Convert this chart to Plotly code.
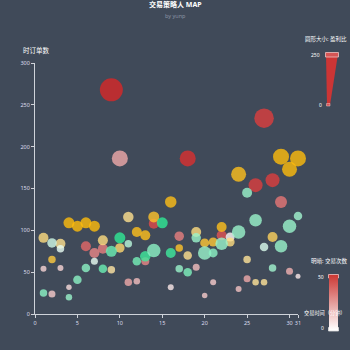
import colorsys
import plotly.graph_objects as go

# ---------------- data ----------------
red_day = [1, 2, 3, 4, 6, 7, 8, 9, 10, 11, 12, 13, 14, 16, 17, 18, 19, 20, 21, 22, 23, 24, 25, 26, 27, 28, 29, 30, 31]
red_val = [54, 24, 55, 32, 81, 73, 78, 268, 186, 38, 39, 63, 108, 32, 93, 186, 56, 22, 38, 94, 92, 30, 42, 154, 234, 160, 134, 51, 45]
red_size = [15, 25, 15, 10, 55, 55, 55, 185, 115, 30, 20, 35, 55, 15, 50, 115, 25, 10, 15, 55, 45, 15, 25, 95, 150, 95, 75, 25, 5]
red_cnt = [10, 12, 10, 8, 35, 28, 30, 50, 20, 20, 15, 28, 42, 5, 30, 48, 15, 12, 12, 40, 2, 14, 20, 45, 45, 45, 32, 18, 5]

yel_day = [1, 2, 3, 4, 5, 6, 7, 8, 9, 10, 11, 12, 13, 14, 16, 17, 18, 19, 20, 21, 22, 23, 24, 25, 26, 27, 28, 29, 30, 31]
yel_val = [91, 65, 84, 109, 105, 109, 105, 88, 53, 79, 116, 98, 94, 116, 134, 79, 70, 98, 85, 86, 104, 86, 167, 65, 38, 38, 92, 188, 173, 186]
yel_size = [55, 30, 55, 65, 65, 65, 65, 55, 30, 50, 60, 55, 55, 65, 70, 30, 40, 55, 45, 45, 55, 45, 105, 30, 20, 20, 55, 115, 105, 115]
yel_cnt = [25, 38, 22, 48, 48, 48, 48, 25, 18, 28, 22, 45, 45, 42, 46, 42, 22, 25, 40, 40, 45, 25, 45, 20, 20, 20, 32, 48, 48, 48]

grn_day = [1, 2, 3, 4, 5, 6, 7, 8, 9, 10, 11, 12, 13, 14, 15, 16, 17, 18, 19, 20, 21, 22, 24, 25, 26, 27, 28, 29, 30, 31]
grn_val = [25, 85, 78, 20, 41, 55, 63, 54, 75, 91, 84, 63, 69, 76, 109, 73, 54, 50, 91, 73, 73, 84, 98, 145, 112, 80, 55, 81, 105, 117]
grn_size = [30, 50, 30, 20, 40, 40, 25, 40, 65, 65, 30, 40, 60, 90, 65, 55, 30, 40, 50, 90, 45, 80, 90, 55, 80, 40, 30, 80, 90, 40]
grn_cnt = [25, 10, 5, 22, 25, 25, 5, 32, 32, 45, 15, 30, 42, 25, 45, 42, 22, 28, 22, 22, 25, 22, 22, 22, 22, 8, 20, 22, 22, 20]

series_names = ["红", "黄", "绿"]
series_colors = ["#dd4444", "#fec42c", "#80F1BE"]

title_text = "交易策略人 MAP"
subtitle_text = "by yunp"
y_name = "时订单数"
x_name = "交易时间（分钟）"
size_text = "圆形大小: 盈利比"
light_text = "明暗: 交易次数"
x_ticks = [0, 5, 10, 15, 20, 25, 30, 31]
y_ticks = [0, 50, 100, 150, 200, 250, 300]

BG = "#404a59"
FONT = "Noto Sans, Noto Sans CJK SC, sans-serif"

W, H = 350, 350
L, R, T, B = 35, 52, 63, 36
PW, PH = W - L - R, H - T - B


def px(x):
    return (x - L) / PW


def py(y):
    return (H - B - y) / PH


def light_color(base, cnt):
    base = base.lstrip("#")
    r, g, b = (int(base[i:i + 2], 16) / 255 for i in (0, 2, 4))
    h, l, s = colorsys.rgb_to_hls(r, g, b)
    lt = 1 - max(0, min(cnt, 50)) / 50 * 0.5
    r2, g2, b2 = colorsys.hls_to_rgb(h, lt, s)
    return "rgb(%d,%d,%d)" % (round(r2 * 255), round(g2 * 255), round(b2 * 255))


def diam(v):
    return 4.5 + v * 0.1


fig = go.Figure()
for name, base, days, vals, sizes, cnts in [
    (series_names[0], series_colors[0], red_day, red_val, red_size, red_cnt),
    (series_names[1], series_colors[1], yel_day, yel_val, yel_size, yel_cnt),
    (series_names[2], series_colors[2], grn_day, grn_val, grn_size, grn_cnt),
]:
    fig.add_trace(go.Scatter(
        x=days, y=vals, mode="markers", name=name, showlegend=False, cliponaxis=False,
        marker=dict(size=[diam(v) for v in sizes],
                    color=[light_color(base, c) for c in cnts],
                    opacity=0.8, line=dict(width=0)),
    ))

# dummy trace carrying the lightness colour bar
ctrl = "#c23531"
cs = [[i / 10, light_color(ctrl, 50 * i / 10)] for i in range(11)]
fig.add_trace(go.Scatter(
    x=[0], y=[0], mode="markers", showlegend=False, hoverinfo="skip",
    marker=dict(size=1, opacity=0, color=[0], cmin=0, cmax=50, colorscale=cs,
                showscale=True,
                colorbar=dict(x=px(329), xanchor="left", y=py(302.5), yanchor="middle",
                              len=55, lenmode="pixels", thickness=9,
                              xpad=0, ypad=0, outlinewidth=0,
                              showticklabels=False, ticks="")),
))

axis_col = "#cfd3da"
fig.update_xaxes(range=[0, 31], tickvals=x_ticks, showgrid=False, zeroline=False,
                 showline=True, linecolor=axis_col, linewidth=1, ticks="outside",
                 ticklen=3, tickcolor=axis_col, tickfont=dict(size=5.5, color="#dde"))
fig.update_yaxes(range=[0, 300], tickvals=y_ticks, showgrid=False, zeroline=False,
                 showline=True, linecolor=axis_col, linewidth=1, ticks="outside",
                 ticklen=3, tickcolor=axis_col, tickfont=dict(size=5.5, color="#dde"))

shapes = [
    # size legend (triangle)
    dict(type="path", xref="paper", yref="paper",
         path="M %f %f L %f %f L %f %f L %f %f Z" % (px(326), py(54), px(338), py(54),
                                                   px(330), py(105), px(327), py(105)),
         fillcolor="#cc3535", line=dict(width=0)),
    dict(type="rect", xref="paper", yref="paper", x0=px(325.5), x1=px(338.5),
         y0=py(57), y1=py(52.5), fillcolor="#d65555", line=dict(color="#f0c0c0", width=0.8)),
    dict(type="rect", xref="paper", yref="paper", x0=px(326.5), x1=px(330),
         y0=py(106), y1=py(103.5), fillcolor="#d65555", line=dict(color="#f0c0c0", width=0.5)),
    # lightness legend handles
    dict(type="rect", xref="paper", yref="paper", x0=px(328.5), x1=px(338.5),
         y0=py(278), y1=py(274.5), fillcolor="#d65555", line=dict(color="#f0c0c0", width=0.8)),
    dict(type="rect", xref="paper", yref="paper", x0=px(328.5), x1=px(338.5),
         y0=py(331), y1=py(327.5), fillcolor="#ffffff", line=dict(color="#dddddd", width=0.8)),
]

ann = [
    dict(text="<b>%s</b>" % title_text, x=px(175), y=py(5), font=dict(size=7, color="#ffffff"),
         xanchor="center", yanchor="middle"),
    dict(text=subtitle_text, x=px(175), y=py(16), font=dict(size=5.5, color="#8a93a3"),
         xanchor="center", yanchor="middle"),
    dict(text=y_name, x=px(36), y=py(50), font=dict(size=6.5, color="#ffffff"),
         xanchor="center", yanchor="middle"),
    dict(text=x_name, x=px(302), y=py(313), font=dict(size=5.2, color="#ffffff"),
         xanchor="left", yanchor="middle"),
    dict(text=size_text, x=px(349), y=py(39), font=dict(size=5.5, color="#ffffff"),
         xanchor="right", yanchor="middle"),
    dict(text="250", x=px(322), y=py(54.5), font=dict(size=5, color="#ffffff"),
         xanchor="right", yanchor="middle"),
    dict(text="0", x=px(324), y=py(105), font=dict(size=5, color="#ffffff"),
         xanchor="right", yanchor="middle"),
    dict(text=light_text, x=px(349), y=py(261), font=dict(size=5.5, color="#ffffff"),
         xanchor="right", yanchor="middle"),
    dict(text="50", x=px(326), y=py(277), font=dict(size=5, color="#ffffff"),
         xanchor="right", yanchor="middle"),
    dict(text="0", x=px(326), y=py(328), font=dict(size=5, color="#ffffff"),
         xanchor="right", yanchor="middle"),
]
for a in ann:
    a.update(xref="paper", yref="paper", showarrow=False)

fig.update_layout(
    width=W, height=H, autosize=False,
    margin=dict(l=L, r=R, t=T, b=B, pad=0),
    paper_bgcolor=BG, plot_bgcolor=BG,
    font=dict(family=FONT, color="#eeeeee"),
    shapes=shapes, annotations=ann, showlegend=False,
)

fig.write_html("out.html")
